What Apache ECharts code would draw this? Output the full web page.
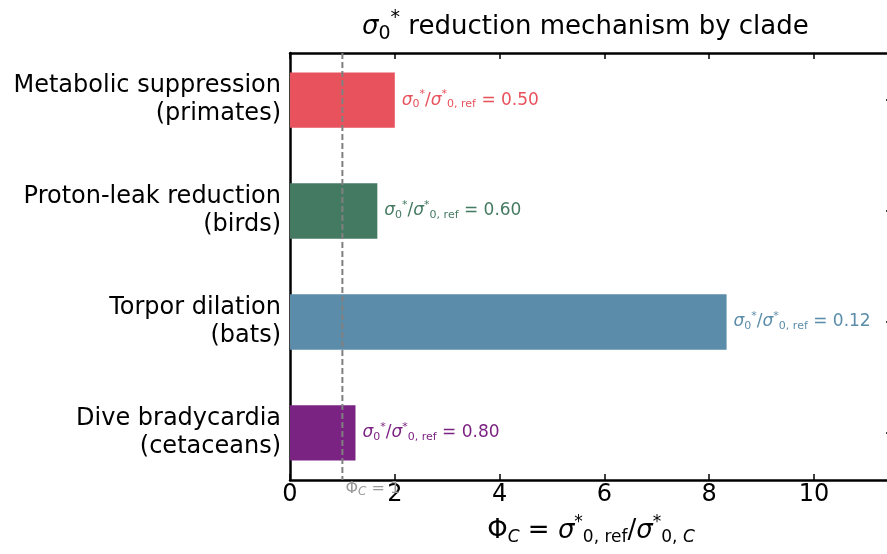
<!DOCTYPE html>
<html>
<head>
<meta charset="utf-8">
<script src="https://cdn.jsdelivr.net/npm/echarts@6/dist/echarts.min.js"></script>
<style>
  html, body { margin: 0; padding: 0; background: #fff; }
  #chart { width: 887px; height: 554px; }
</style>
</head>
<body>
<div id="chart"></div>
<script>
// data
var clades = [
  'Metabolic suppression\n(primates)',
  'Proton-leak reduction\n(birds)',
  'Torpor dilation\n(bats)',
  'Dive bradycardia\n(cetaceans)'
]
var phiValues = [2.0, 1.667, 8.333, 1.25]          // Phi_C = sigma_ref / sigma_C
var ratioLabels = ['0.50', '0.60', '0.12', '0.80'] // sigma_C / sigma_ref
var barColors = ['#e8525c', '#457a62', '#5b8daa', '#7b2382']
var xTicks = [0, 2, 4, 6, 8, 10]
var yTicks = [0, 1, 2, 3]
var phiRef = 1

var FONT = 'DejaVu Sans'
var yMin = -0.425, yMax = 3.425, xMax = 11.49
var barHeight = 0.5

function mathRich(size, color, k) {
  var small = Math.round(size * (k || 0.72))
  return {
    s: { fontFamily: FONT, fontSize: size, fontStyle: 'italic', fontWeight: 'normal', color: color },
    t: { fontFamily: FONT, fontSize: size, fontWeight: 'normal', color: color },
    sub: { fontFamily: FONT, fontSize: small, fontWeight: 'normal', color: color, padding: [Math.round(size * 0.55), 0, 0, 0] },
    subi: { fontFamily: FONT, fontSize: small, fontStyle: 'italic', fontWeight: 'normal', color: color, padding: [Math.round(size * 0.55), 0, 0, 0] },
    sup: { fontFamily: FONT, fontSize: small, fontWeight: 'normal', color: color, padding: [0, 0, Math.round(size * 0.65), 0] }
  }
}

var chart = echarts.init(document.getElementById('chart'))

var barData = phiValues.map(function (v, i) { return [v, i] })

var frameAxis = function (extra) {
  return Object.assign({
    type: 'value',
    axisLine: { show: true, onZero: false, lineStyle: { color: '#000', width: 2.5 } },
    splitLine: { show: false }
  }, extra)
}
var tickStyle = function (vals) {
  return { show: true, inside: true, length: 6, customValues: vals, lineStyle: { color: '#000', width: 1.5 } }
}

chart.setOption({
  animation: false,
  title: {
    text: '{s|σ}{sub|0}{sup|*}{t| reduction mechanism by clade}',
    left: 357,
    top: 4,
    textStyle: { fontWeight: 'normal', rich: mathRich(26, '#000') }
  },
  // right spine sits just past the canvas edge, as in the reference
  grid: { left: 290, top: 53, width: 602, bottom: 74, containLabel: false, outerBoundsMode: 'none' },
  xAxis: [
    frameAxis({
      position: 'bottom',
      min: 0, max: xMax,
      axisTick: tickStyle(xTicks),
      axisLabel: { customValues: xTicks, fontFamily: FONT, fontSize: 24, color: '#000', margin: 3 },
      name: '{t|Φ}{subi|C}{t| = }{s|σ}{sup|*}{sub|0, ref}{t|/}{s|σ}{sup|*}{sub|0, }{subi|C}',
      nameLocation: 'middle',
      nameGap: 34,
      nameTextStyle: { rich: mathRich(26, '#000', 0.66) }
    }),
    frameAxis({
      position: 'top',
      min: 0, max: xMax,
      axisTick: tickStyle(xTicks),
      axisLabel: { show: false }
    })
  ],
  yAxis: [
    frameAxis({
      position: 'left',
      min: yMin, max: yMax, inverse: true,
      axisTick: tickStyle(yTicks),
      axisLabel: {
        customValues: yTicks,
        formatter: function (v) { return clades[v] },
        fontFamily: FONT, fontSize: 24, lineHeight: 28, color: '#000', margin: 9, align: 'right'
      }
    }),
    frameAxis({
      position: 'right',
      min: yMin, max: yMax, inverse: true,
      axisTick: tickStyle(yTicks),
      axisLabel: { show: false }
    })
  ],
  series: [
    {
      type: 'custom',
      xAxisIndex: 0,
      yAxisIndex: 0,
      data: barData,
      encode: { x: 0, y: 1 },
      renderItem: function (params, api) {
        var i = api.value(1)
        var start = api.coord([0, i])
        var end = api.coord([api.value(0), i])
        var h = Math.abs(api.size([0, barHeight])[1])
        var color = barColors[i]
        return {
          type: 'rect',
          shape: { x: start[0], y: start[1] - h / 2, width: end[0] - start[0], height: h },
          style: { fill: color },
          textContent: {
            style: {
              text: '{s|σ}{sub|0}{sup|*}{t|/}{s|σ}{sup|*}{sub|0, ref}{t| = ' + ratioLabels[i] + '}',
              rich: mathRich(17, color, 0.64),
              fill: color
            }
          },
          textConfig: { position: 'right', distance: 7 }
        }
      },
      z: 2
    },
    {
      type: 'line',
      xAxisIndex: 0,
      yAxisIndex: 0,
      symbol: 'circle',
      symbolSize: 0,
      showSymbol: true,
      lineStyle: { color: '#808080', width: 2, type: [6, 3] },
      data: [
        [phiRef, yMin],
        {
          value: [phiRef, yMax],
          label: {
            show: true,
            position: [3, 0],
            formatter: '{t|Φ}{subi|C}{t| = 1}',
            rich: {
              t: { fontFamily: FONT, fontSize: 16, color: '#999' },
              subi: { fontFamily: FONT, fontSize: 12, fontStyle: 'italic', color: '#999', padding: [6, 0, 0, 0] }
            }
          }
        }
      ],
      z: 3
    }
  ]
})
</script>
</body>
</html>
